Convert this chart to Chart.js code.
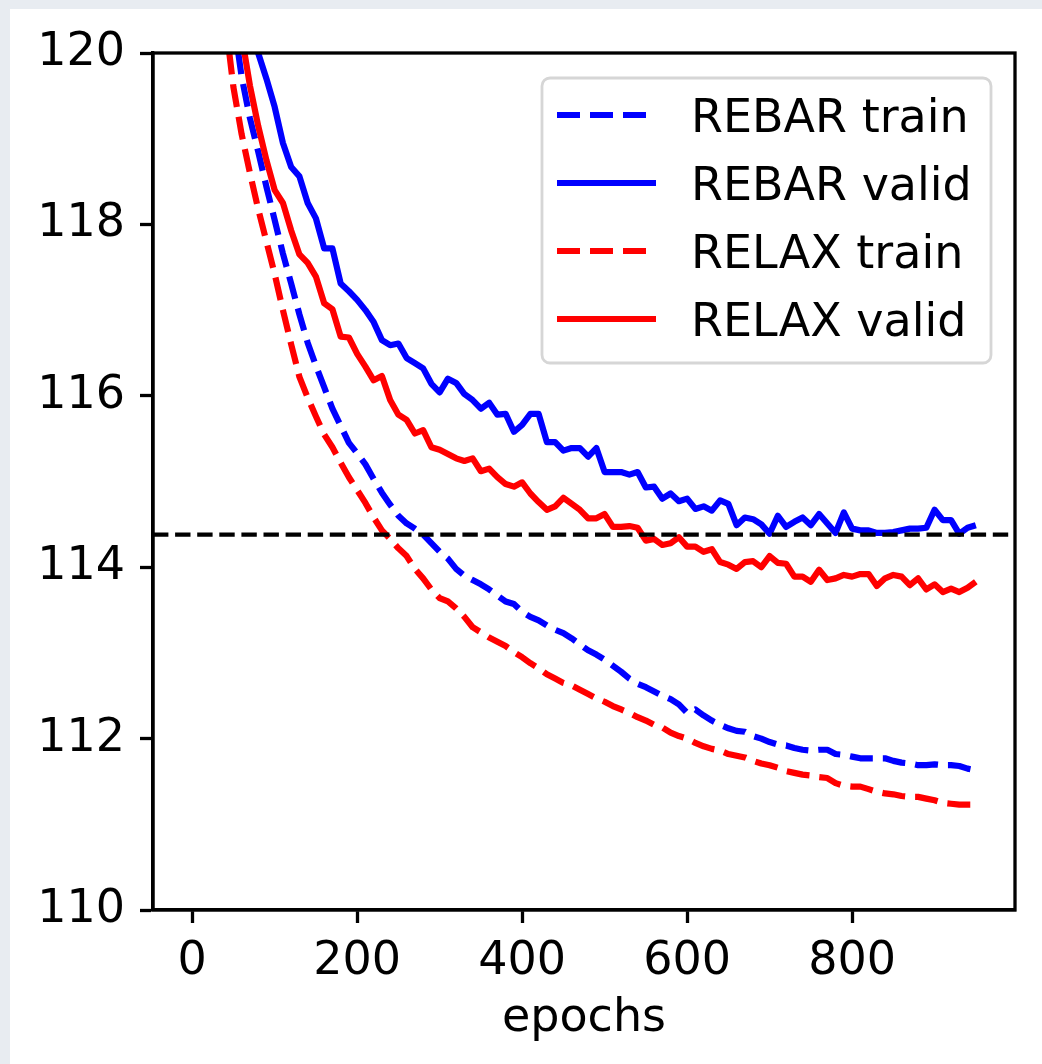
<!DOCTYPE html>
<html>
<head>
<meta charset="utf-8">
<script src="https://cdn.jsdelivr.net/npm/chart.js@4.4.1/dist/chart.umd.min.js"></script>
<style>
  html, body { margin: 0; padding: 0; background: #e8ecf1; }
  #panel { position: absolute; left: 10px; top: 9px; width: 1032px; height: 1055px; background: #fff; }
  #cv { position: absolute; left: 0; top: 0; }
</style>
</head>
<body>
<div id="panel"></div>
<canvas id="cv" width="1042" height="1064"></canvas>
<script>
// epochs every 10 (null = above the visible range)
const epochs = [0, 10, 20, 30, 40, 50, 60, 70, 80, 90, 100, 110, 120, 130, 140, 150, 160, 170, 180, 190,
  200, 210, 220, 230, 240, 250, 260, 270, 280, 290, 300, 310, 320, 330, 340, 350, 360, 370, 380, 390,
  400, 410, 420, 430, 440, 450, 460, 470, 480, 490, 500, 510, 520, 530, 540, 550, 560, 570, 580, 590,
  600, 610, 620, 630, 640, 650, 660, 670, 680, 690, 700, 710, 720, 730, 740, 750, 760, 770, 780, 790,
  800, 810, 820, 830, 840, 850, 860, 870, 880, 890, 900, 910, 920, 930, 940, 950];

const rebarTrain = [null, null, null, null, null,
  120.4, 119.72, 119.24, 118.85, 118.44, 118.05, 117.66, 117.31, 116.95, 116.62,
  116.35, 116.1, 115.85, 115.65, 115.45, 115.33, 115.2, 115.03, 114.87, 114.73,
  114.6, 114.51, 114.45, 114.38, 114.28, 114.18, 114.1, 113.98, 113.9, 113.85,
  113.8, 113.74, 113.67, 113.6, 113.57, 113.48, 113.42, 113.38, 113.32, 113.27,
  113.23, 113.17, 113.1, 113.03, 112.98, 112.92, 112.85, 112.78, 112.7, 112.64,
  112.6, 112.55, 112.5, 112.46, 112.4, 112.3, 112.34, 112.27, 112.21, 112.16,
  112.12, 112.09, 112.08, 112.03, 112.0, 111.96, 111.93, 111.92, 111.89, 111.87,
  111.86, 111.87, 111.87, 111.82, 111.81, 111.79, 111.77, 111.77, 111.77, 111.77,
  111.74, 111.72, 111.71, 111.69, 111.69, 111.7, 111.69, 111.69, 111.68, 111.65, 111.63];

const rebarValid = [null, null, null, null, null, null, null,
  120.5, 120.0, 119.7, 119.37, 118.95, 118.67, 118.56, 118.25, 118.07, 117.72, 117.72,
  117.31, 117.22, 117.12, 117.0, 116.86, 116.65, 116.59, 116.61, 116.44, 116.38,
  116.32, 116.14, 116.04, 116.2, 116.15, 116.02, 115.95, 115.85, 115.92, 115.78,
  115.79, 115.58, 115.66, 115.79, 115.79, 115.46, 115.46, 115.36, 115.39, 115.39,
  115.29, 115.39, 115.11, 115.11, 115.11, 115.08, 115.11, 114.93, 114.94, 114.8,
  114.86, 114.77, 114.8, 114.68, 114.71, 114.66, 114.78, 114.74, 114.49, 114.58,
  114.56, 114.5, 114.39, 114.6, 114.47, 114.53, 114.58, 114.49, 114.62, 114.51,
  114.4, 114.64, 114.45, 114.43, 114.43, 114.4, 114.4, 114.41, 114.43, 114.45,
  114.45, 114.46, 114.67, 114.55, 114.55, 114.39, 114.46, 114.49];

const relaxTrain = [null, null, null, null,
  120.4, 119.6, 119.05, 118.6, 118.18, 117.8, 117.42, 117.0, 116.6, 116.22,
  115.98, 115.76, 115.55, 115.4, 115.22, 115.05, 114.9, 114.75, 114.58, 114.43,
  114.33, 114.22, 114.13, 113.98, 113.87, 113.74, 113.64, 113.6, 113.52, 113.42,
  113.3, 113.24, 113.18, 113.13, 113.08, 113.01, 112.95, 112.88, 112.82, 112.75,
  112.7, 112.65, 112.62, 112.57, 112.52, 112.47, 112.43, 112.38, 112.34, 112.3,
  112.25, 112.21, 112.16, 112.13, 112.07, 112.03, 112.0, 111.95, 111.91, 111.88,
  111.86, 111.82, 111.8, 111.78, 111.74, 111.71, 111.69, 111.66, 111.62, 111.6,
  111.58, 111.57, 111.55, 111.54, 111.48, 111.45, 111.44, 111.44, 111.41, 111.38,
  111.36, 111.35, 111.33, 111.32, 111.32, 111.3, 111.28, 111.25, 111.24, 111.23,
  111.23, 111.23];

const relaxValid = [null, null, null, null, null,
  120.7, 120.2, 119.62, 119.15, 118.75, 118.4, 118.25, 117.93, 117.65, 117.55,
  117.39, 117.08, 117.01, 116.69, 116.68, 116.49, 116.34, 116.18, 116.23, 115.95,
  115.78, 115.72, 115.56, 115.6, 115.4, 115.37, 115.32, 115.27, 115.24, 115.27,
  115.12, 115.15, 115.05, 114.97, 114.94, 114.99, 114.86, 114.76, 114.67, 114.71,
  114.81, 114.74, 114.67, 114.57, 114.57, 114.62, 114.47, 114.47, 114.48, 114.46,
  114.31, 114.33, 114.26, 114.28, 114.35, 114.24, 114.24, 114.18, 114.21, 114.06,
  114.03, 113.98, 114.06, 114.07, 114.0, 114.13, 114.05, 114.04, 113.89, 113.89,
  113.83, 113.97, 113.85, 113.87, 113.91, 113.89, 113.92, 113.92, 113.78, 113.87,
  113.91, 113.89, 113.79, 113.87, 113.74, 113.8, 113.71, 113.75, 113.71, 113.76, 113.83];

const baseline = 114.38;
const xTicks = [0, 200, 400, 600, 800];
const yTicks = [110, 112, 114, 116, 118, 120];
const xRange = [-47.5, 997.5];
const yRange = [110, 120];

const FONT = 'DejaVu Sans';
const FS = 46;
const LW = 6.2;
const DASH = [23, 10];

function pts(vals) {
    return epochs.map((e, i) => ({ x: e, y: vals[i] }));
}

function series(label, vals, color, dashed, order) {
    return {
        label: label,
        data: pts(vals),
        borderColor: color,
        borderWidth: LW,
        borderDash: dashed ? DASH : [],
        borderJoinStyle: 'round',
        pointRadius: 0,
        tension: 0,
        fill: false,
        clip: 0,
        order: order,
    };
}

// matplotlib-like frame around the axes
const framePlugin = {
    id: 'frame',
    afterDatasetsDraw(chart) {
        const a = chart.chartArea, ctx = chart.ctx;
        ctx.save();
        ctx.strokeStyle = '#000';
        ctx.lineWidth = 3.3;
        ctx.setLineDash([]);
        ctx.strokeRect(a.left, a.top, a.right - a.left, a.bottom - a.top);
        ctx.restore();
    }
};

// legend box in the upper right of the axes
const legendPlugin = {
    id: 'boxLegend',
    afterDraw(chart) {
        const ctx = chart.ctx;
        const box = { x: 542, y: 78, w: 449, h: 285, r: 8 };
        ctx.save();
        ctx.beginPath();
        ctx.roundRect(box.x, box.y, box.w, box.h, box.r);
        ctx.fillStyle = 'rgba(255,255,255,0.8)';
        ctx.fill();
        ctx.lineWidth = 2.8;
        ctx.strokeStyle = '#d6d6d6';
        ctx.stroke();
        const sets = chart.data.datasets.filter(d => d.label);
        sets.forEach((d, i) => {
            const yy = 115 + i * 68;
            ctx.beginPath();
            ctx.setLineDash(d.borderDash);
            ctx.lineWidth = d.borderWidth;
            ctx.strokeStyle = d.borderColor;
            ctx.moveTo(557, yy);
            ctx.lineTo(656, yy);
            ctx.stroke();
            ctx.setLineDash([]);
            ctx.fillStyle = '#000';
            ctx.font = FS + 'px "' + FONT + '"';
            ctx.textBaseline = 'alphabetic';
            ctx.textAlign = 'left';
            ctx.fillText(d.label, 691, yy + 17);
        });
        ctx.restore();
    }
};

const tickFont = { family: FONT, size: FS };

new Chart(document.getElementById('cv'), {
    type: 'line',
    data: {
        datasets: [
            series('REBAR train', rebarTrain, '#0000ff', true, 4),
            series('REBAR valid', rebarValid, '#0000ff', false, 3),
            series('RELAX train', relaxTrain, '#ff0000', true, 2),
            series('RELAX valid', relaxValid, '#ff0000', false, 1),
            {
                label: '',
                data: [{ x: xRange[0], y: baseline }, { x: xRange[1], y: baseline }],
                borderColor: '#000',
                borderWidth: 4.2,
                borderDash: [15.4, 6.7],
                pointRadius: 0,
                tension: 0,
                clip: 0,
                order: 0,
            },
        ],
    },
    options: {
        responsive: false,
        animation: false,
        devicePixelRatio: 1,
        layout: { padding: { top: 53, right: 27, left: 0, bottom: 0 } },
        plugins: {
            legend: { display: false },
            tooltip: { enabled: false },
        },
        scales: {
            x: {
                type: 'linear',
                min: xRange[0],
                max: xRange[1],
                afterBuildTicks: s => { s.ticks = xTicks.map(v => ({ value: v })); },
                afterFit: s => { s.height = 154; },
                grid: { drawOnChartArea: false, tickLength: 13, tickWidth: 3.3, color: '#000' },
                border: { display: true, color: '#000', width: 3.3 },
                ticks: { color: '#000', font: tickFont, padding: 11, maxRotation: 0, autoSkip: false },
                title: {
                    display: true,
                    text: 'epochs',
                    color: '#000',
                    font: { family: FONT, size: FS, lineHeight: 1.2 },
                    padding: { top: 0, bottom: 17 },
                },
            },
            y: {
                min: yRange[0],
                max: yRange[1],
                afterBuildTicks: s => { s.ticks = yTicks.map(v => ({ value: v })); },
                afterFit: s => { s.width = 153; },
                grid: { drawOnChartArea: false, tickLength: 13, tickWidth: 3.3, color: '#000' },
                border: { display: true, color: '#000', width: 3.3 },
                ticks: { color: '#000', font: tickFont, padding: 15 },
            },
        },
    },
    plugins: [framePlugin, legendPlugin],
});
</script>
</body>
</html>
